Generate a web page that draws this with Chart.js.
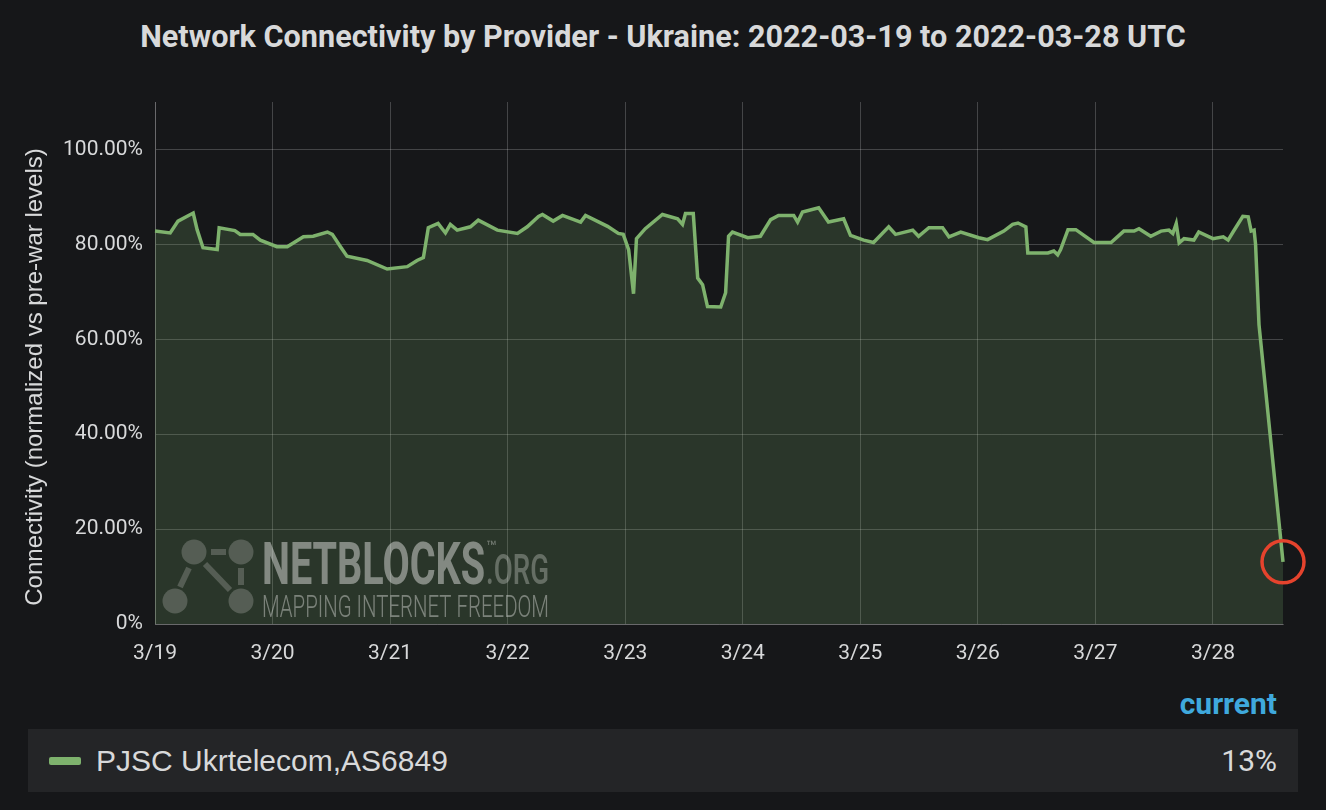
<!DOCTYPE html>
<html>
<head>
<meta charset="utf-8">
<script src="https://cdn.jsdelivr.net/npm/chart.js@4.4.1/dist/chart.umd.min.js"></script>
<style>
  html, body { margin: 0; padding: 0; background: #161719; }
  body { width: 1326px; height: 810px; position: relative; overflow: hidden; }
  #title {
    position: absolute; left: 0; top: 19px; width: 1326px; text-align: center;
    font: bold 30.6px Roboto, sans-serif; color: #d8d9da;
  }
  #wrap { position: absolute; left: 0; top: 0; width: 1326px; height: 680px; }
  #current {
    position: absolute; right: 49px; top: 686px;
    font: bold 30px Roboto, sans-serif; color: #3fa9dd;
  }
  #legend {
    position: absolute; left: 28px; top: 729px; width: 1270px; height: 63px;
    background: #242527; color: #d8d9da;
  }
  #legend .swatch {
    position: absolute; left: 21px; top: 28px; width: 32px; height: 8px;
    border-radius: 2px; background: #7eb26d;
  }
  #legend .name {
    position: absolute; left: 68px; top: 0;
    font: 30px "Liberation Sans", Arial, sans-serif; line-height: 63px;
  }
  #legend .value {
    position: absolute; right: 21px; top: 0;
    font: 30px Roboto, sans-serif; line-height: 63px;
  }
</style>
</head>
<body>
<div id="title">Network Connectivity by Provider - Ukraine: 2022-03-19 to 2022-03-28 UTC</div>
<div id="wrap"><canvas id="chart"></canvas></div>
<div id="current">current</div>
<div id="legend">
  <div class="swatch"></div>
  <div class="name">PJSC Ukrtelecom,AS6849</div>
  <div class="value">13%</div>
</div>
<script>
// ── Data ────────────────────────────────────────────────────────
// hours since 2022-03-19 00:00 UTC
const hours = [
  0, 3.1, 4.7, 7.8, 8.6, 9.8, 12.7, 13.1, 16.3, 17.4, 20.0, 21.5,
  24.9, 27.0, 30.3, 32.3, 35.2, 36.2, 37.8, 39.2, 43.3, 47.4,
  51.5, 53.5, 54.8, 55.8, 57.8, 59.3, 60.3, 61.7, 64.4, 66.0, 69.9,
  74.0, 76.0, 78.3, 79.1, 81.3, 83.2, 86.9, 87.9, 92.4, 94.6,
  95.6, 96.7, 97.7, 98.3, 100.1, 103.6, 106.7, 107.7, 108.3, 109.9,
  110.8, 111.8, 112.8, 115.5, 116.5, 117.1, 117.9,
  121.0, 123.6, 125.7, 127.3, 130.4, 131.2, 132.2, 135.5, 137.5, 140.6,
  142.0, 144.7, 146.7, 149.8, 151.2, 154.7, 155.9, 158.0, 160.8, 162.1,
  164.5, 168.2, 170.0, 173.3, 175.1, 176.2, 177.8, 178.2, 182.3, 183.5,
  184.3, 184.9, 186.4, 188.0, 191.7, 195.2, 197.8, 199.9, 200.9, 203.3,
  205.4, 207.0, 207.8, 208.5, 209.1, 210.1, 212.1, 213.1, 216.0, 218.1,
  219.1, 220.1, 222.1, 223.2, 223.8, 224.4, 224.7, 225.4, 230.3
];
const connectivity = [
  82.8, 82.4, 84.9, 86.6, 83.1, 79.3, 78.9, 83.5, 82.9, 82.1, 82.1, 80.9,
  79.5, 79.5, 81.6, 81.7, 82.6, 82.1, 79.6, 77.5, 76.6, 74.8,
  75.3, 76.6, 77.2, 83.5, 84.4, 82.4, 84.2, 83.0, 83.7, 85.1, 83.0,
  82.3, 83.7, 85.9, 86.3, 84.9, 86.1, 84.7, 86.1, 83.8, 82.3,
  82.1, 78.9, 69.6, 81.2, 83.3, 86.3, 85.4, 84.2, 86.5, 86.5,
  72.9, 71.5, 66.9, 66.8, 69.8, 81.7, 82.6,
  81.4, 81.7, 85.2, 86.1, 86.1, 84.7, 86.8, 87.7, 84.7, 85.4,
  81.9, 80.9, 80.4, 83.7, 82.1, 83.0, 81.7, 83.5, 83.5, 81.6,
  82.6, 81.4, 81.0, 82.8, 84.2, 84.5, 83.7, 78.2, 78.2, 78.6,
  77.8, 78.9, 83.1, 83.1, 80.4, 80.4, 82.8, 82.8, 83.3, 81.7,
  82.8, 83.0, 82.3, 84.4, 80.3, 81.2, 80.9, 82.6, 81.2, 81.6,
  80.9, 82.6, 85.9, 85.8, 82.8, 83.0, 80.0, 63.1, 13.1
];
const dayLabels = ['3/19', '3/20', '3/21', '3/22', '3/23', '3/24', '3/25', '3/26', '3/27', '3/28'];
const yTicks = [0, 20, 40, 60, 80, 100];

// ── Styling ─────────────────────────────────────────────────────
const GREEN = '#7eb26d';
const GRID = 'rgba(255, 255, 255, 0.2)';
const TEXT = '#d8d9da';

// y-axis title + netblocks watermark, drawn on the canvas
const overlay = {
    id: 'overlay',
    afterDatasetsDraw(chart) {
        const ctx = chart.ctx;
        ctx.save();

        // logo graphic
        ctx.fillStyle = 'rgba(255,255,255,0.2)';
        ctx.strokeStyle = 'rgba(255,255,255,0.2)';
        [[194, 552], [241, 552], [175, 601], [241, 601]].forEach(([x, y]) => {
            ctx.beginPath();
            ctx.arc(x, y, 12.5, 0, Math.PI * 2);
            ctx.fill();
        });
        ctx.lineWidth = 6;
        ctx.lineCap = 'butt';
        [[[211, 552], [226, 552]], [[205, 564], [230, 590]],
         [[189, 568], [180, 587]], [[241, 568], [241, 585]]].forEach(([a, b]) => {
            ctx.beginPath();
            ctx.moveTo(a[0], a[1]);
            ctx.lineTo(b[0], b[1]);
            ctx.stroke();
        });

        // logo text, squeezed to the condensed look
        const squeeze = (text, font, x, baseline, width, color) => {
            ctx.font = font;
            const w = ctx.measureText(text).width;
            ctx.save();
            ctx.translate(x, baseline);
            ctx.scale(width / w, 1);
            ctx.fillStyle = color;
            ctx.textAlign = 'left';
            ctx.textBaseline = 'alphabetic';
            ctx.fillText(text, 0, 0);
            ctx.restore();
        };
        squeeze('NETBLOCKS', 'bold 60px Roboto', 262, 584, 223, 'rgba(255,255,255,0.42)');
        squeeze('™', '16px Roboto', 486, 552, 11, 'rgba(255,255,255,0.35)');
        squeeze('.ORG', '500 42px Roboto', 486, 584, 63, 'rgba(255,255,255,0.28)');
        squeeze('MAPPING INTERNET FREEDOM', '300 32px Roboto', 262, 617, 287, 'rgba(255,255,255,0.38)');

        // y-axis title
        ctx.translate(35, 377);
        ctx.rotate(-Math.PI / 2);
        ctx.font = '24px "Liberation Sans", Arial, sans-serif';
        ctx.fillStyle = TEXT;
        ctx.textAlign = 'center';
        ctx.textBaseline = 'middle';
        ctx.fillText('Connectivity (normalized vs pre-war levels)', 0, 0);
        ctx.restore();
    }
};

const lastIndex = hours.length - 1;

new Chart(document.getElementById('chart'), {
    type: 'line',
    data: {
        datasets: [{
            label: 'PJSC Ukrtelecom,AS6849',
            data: hours.map((h, i) => ({ x: h, y: connectivity[i] })),
            borderColor: GREEN,
            backgroundColor: 'rgba(126, 178, 109, 0.2)',
            borderWidth: 3.5,
            fill: 'origin',
            tension: 0,
            clip: false,
            pointRadius: hours.map((h, i) => i === lastIndex ? 21 : 0),
            pointBorderColor: '#e5432d',
            pointBorderWidth: 3.5,
            pointBackgroundColor: 'rgba(0,0,0,0)',
        }],
    },
    options: {
        responsive: true,
        maintainAspectRatio: false,
        animation: false,
        events: [],
        layout: { padding: { top: 102, right: 43, left: 0, bottom: 0 } },
        plugins: {
            legend: { display: false },
            tooltip: { enabled: false },
        },
        scales: {
            x: {
                type: 'linear',
                min: 0,
                max: hours[lastIndex],
                afterFit: (s) => { s.height = 56; },
                grid: { color: GRID, drawTicks: false },
                border: { color: GRID },
                ticks: {
                    stepSize: 24,
                    includeBounds: false,
                    padding: 17,
                    color: TEXT,
                    font: { family: 'Roboto', size: 21 },
                    maxRotation: 0,
                    callback: (v) => dayLabels[Math.round(v / 24)] || '',
                },
            },
            y: {
                min: 0,
                max: 110,
                afterFit: (s) => { s.width = 155; },
                afterBuildTicks: (s) => { s.ticks = yTicks.map(v => ({ value: v })); },
                grid: { color: GRID, drawTicks: false },
                border: { color: GRID },
                ticks: {
                    padding: 12,
                    color: TEXT,
                    font: { family: 'Roboto', size: 21 },
                    callback: (v) => v === 0 ? '0%' : `${v.toFixed(2)}%`,
                },
            },
        },
    },
    plugins: [overlay],
});
</script>
</body>
</html>
